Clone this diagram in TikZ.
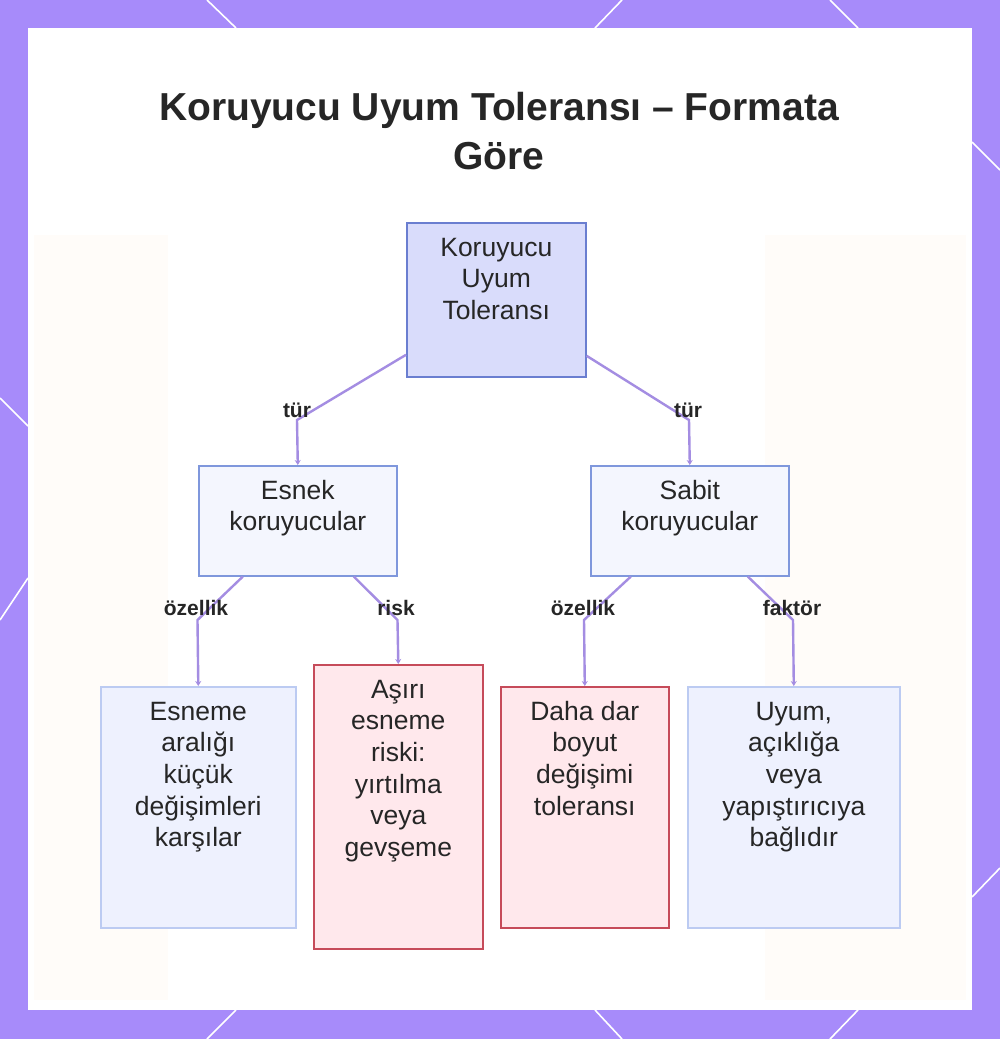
\documentclass[tikz,border=0pt]{standalone}
\usepackage{fontspec}
\setmainfont{Liberation Sans}
\usetikzlibrary{arrows.meta}
\definecolor{frame}{HTML}{A78BFA}
\definecolor{conn}{HTML}{A48DE2}
\definecolor{txt}{HTML}{262626}
\definecolor{rootfill}{HTML}{D9DCFB}
\definecolor{rootdraw}{HTML}{6A7ED0}
\definecolor{midfill}{HTML}{F4F6FE}
\definecolor{middraw}{HTML}{7F97DC}
\definecolor{bluefill}{HTML}{EEF1FE}
\definecolor{bluedraw}{HTML}{BCCBF2}
\definecolor{redfill}{HTML}{FFE8EC}
\definecolor{reddraw}{HTML}{C64B5A}
\newcommand\boxtxt[3]{\parbox[c][#1][t]{#2}{\centering\fontsize{26.5}{31.6}\selectfont\rule{0pt}{33.5pt}#3}}
\tikzset{
  nbox/.style={rectangle, inner sep=0pt, line width=1.6pt, text=txt},
  rootbox/.style={nbox, fill=rootfill, draw=rootdraw},
  midbox/.style={nbox, fill=midfill, draw=middraw},
  bluebox/.style={nbox, fill=bluefill, draw=bluedraw},
  redbox/.style={nbox, fill=redfill, draw=reddraw},
  connector/.style={draw=conn, line width=2.4pt, -{Stealth[length=5pt,width=6pt]}},
  lbl/.style={anchor=base, inner sep=0pt, text=txt, font=\fontsize{21}{24}\selectfont\bfseries},
  borderline/.style={draw=white, line width=1.6pt}
}
\begin{document}
\begin{tikzpicture}[x=1pt,y=-1pt]
\useasboundingbox (0,0) rectangle (1000,1039);
% frame
\fill[frame] (0,0) rectangle (1000,1039);
\draw[borderline] (207,0) -- (236,28);
\draw[borderline] (622,0) -- (595,28);
\draw[borderline] (830,0) -- (858,28);
\draw[borderline] (236,1010) -- (207,1039);
\draw[borderline] (595,1010) -- (622,1039);
\draw[borderline] (858,1010) -- (830,1039);
\draw[borderline] (0,398) -- (28,426);
\draw[borderline] (28,578) -- (0,620);
\draw[borderline] (972,142) -- (1000,170);
\draw[borderline] (972,897) -- (1000,868);
% panel
\fill[white] (28,28) rectangle (972,1010);
\fill[orange!40!white, opacity=0.06] (34,235) rectangle (168,1000);
\fill[orange!40!white, opacity=0.06] (765,235) rectangle (966,1000);
% title
\node[anchor=base, inner sep=0pt, text=txt, font=\fontsize{39}{49}\selectfont\bfseries] (title1) at (499,120) {Koruyucu Uyum Toleransı – Formata};
\node[anchor=base, inner sep=0pt, text=txt, font=\fontsize{39}{49}\selectfont\bfseries] (title2) at (499,169) {Göre};
% nodes
\node[rootbox, anchor=north west] (root) at (406,222) {\boxtxt{154pt}{179pt}{Koruyucu\\Uyum\\Toleransı}};
\node[midbox, anchor=north west] (esnek) at (198,465) {\boxtxt{110pt}{198pt}{Esnek\\koruyucular}};
\node[midbox, anchor=north west] (sabit) at (590,465) {\boxtxt{110pt}{198pt}{Sabit\\koruyucular}};
\node[bluebox, anchor=north west] (esneme) at (100,686) {\boxtxt{241pt}{195pt}{Esneme\\aralığı\\küçük\\değişimleri\\karşılar}};
\node[redbox, anchor=north west] (asiri) at (313,664) {\boxtxt{284pt}{169pt}{Aşırı\\esneme\\riski:\\yırtılma\\veya\\gevşeme}};
\node[redbox, anchor=north west] (daha) at (500,686) {\boxtxt{241pt}{168pt}{Daha dar\\boyut\\değişimi\\toleransı}};
\node[bluebox, anchor=north west] (uyum) at (687,686) {\boxtxt{241pt}{212pt}{Uyum,\\açıklığa\\veya\\yapıştırıcıya\\bağlıdır}};
% corner points
\coordinate (c1) at (297,420);
\coordinate (c2) at (689,420);
\coordinate (c3) at (197.5,620);
\coordinate (c4) at (397.5,620);
\coordinate (c5) at (584,620);
\coordinate (c6) at (793,620);
% connectors
\draw[connector] ([yshift=-55pt]root.west) -- (c1) -- (esnek.north);
\draw[connector] ([yshift=-56pt]root.east) -- (c2) -- (sabit.north);
\draw[connector] ([xshift=-55pt]esnek.south) -- (c3) -- (esneme.north);
\draw[connector] ([xshift=56pt]esnek.south) -- (c4) -- (asiri.north);
\draw[connector] ([xshift=-59pt]sabit.south) -- (c5) -- (daha.north);
\draw[connector] ([xshift=58pt]sabit.south) -- (c6) -- (uyum.north);
% labels
\node[lbl] (l1) at (297,417) {tür};
\node[lbl] (l2) at (688,417) {tür};
\node[lbl] (l3) at (196,615) {özellik};
\node[lbl] (l4) at (396,615) {risk};
\node[lbl] (l5) at (583,615) {özellik};
\node[lbl] (l6) at (792,615) {faktör};
\end{tikzpicture}
\end{document}
